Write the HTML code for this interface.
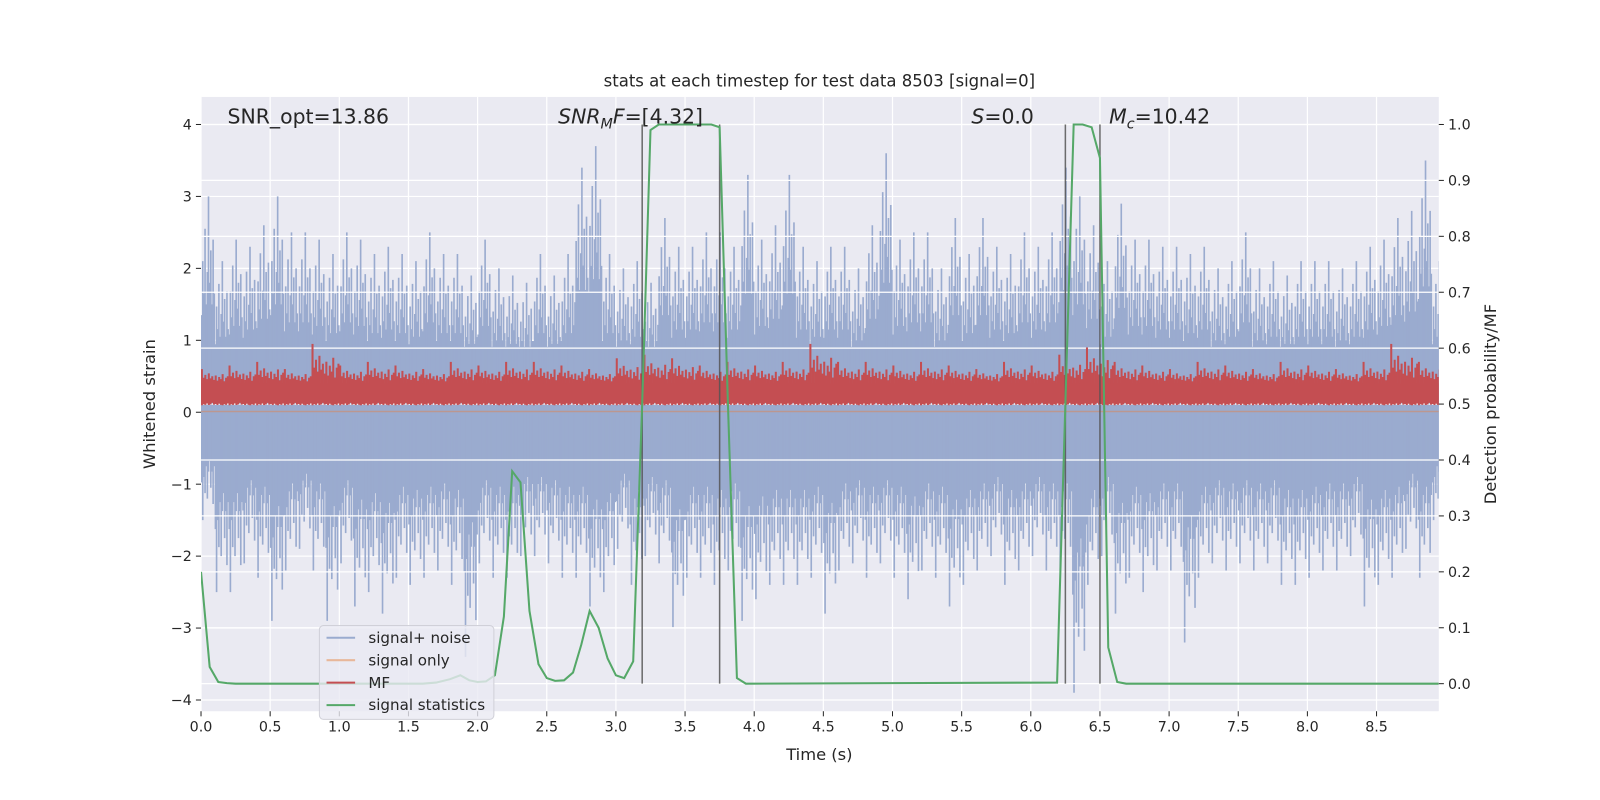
<!DOCTYPE html>
<html><head><meta charset="utf-8">
<style>
html,body{margin:0;padding:0;background:#fff;overflow:hidden;width:1600px;height:800px;}
svg{display:block;}
svg text{font-family:"DejaVu Sans","Liberation Sans",sans-serif;fill:#262626;}
</style></head>
<body>
<svg id="chart" width="1600" height="800" viewBox="0 0 1568 784" preserveAspectRatio="none" xmlns="http://www.w3.org/2000/svg"></svg>
<script>
// ---- data ----
const xTicks=[0,0.5,1,1.5,2,2.5,3,3.5,4,4.5,5,5.5,6,6.5,7,7.5,8,8.5];
const yTicks=[-4,-3,-2,-1,0,1,2,3,4];
const y2Ticks=[0,0.1,0.2,0.3,0.4,0.5,0.6,0.7,0.8,0.9,1.0];
// noise upper/lower peaks per 0.1 s bin
const noiseHigh=[3.0,2.1,2.4,2.3,2.6,3.0,2.5,2.5,2.4,2.2,2.5,2.4,2.2,2.3,2.2,2.1,2.5,2.2,2.2,1.9,2.4,2.0,1.9,1.8,2.2,1.9,2.2,3.4,3.7,2.2,2.0,2.1,1.8,2.7,2.3,2.3,2.5,2.5,2.3,3.3,2.4,2.6,3.3,2.3,2.1,2.3,2.3,2.0,2.6,3.6,2.4,2.5,2.5,2.0,2.7,2.2,2.7,2.3,2.2,2.5,2.3,2.5,3.4,3.0,2.6,2.1,2.9,2.4,2.4,2.3,2.3,2.2,2.3,2.0,2.1,2.5,2.0,2.1,1.9,2.1,2.1,2.1,2.0,2.1,2.3,2.4,2.7,2.8,3.5,2.1];
const noiseLow=[-1.5,-2.5,-2.5,-2.1,-2.3,-2.9,-2.2,-1.9,-2.2,-2.9,-2.1,-2.7,-2.5,-2.8,-2.3,-2.4,-2.3,-2.2,-2.4,-3.4,-2.1,-2.3,-2.3,-2.0,-2.0,-2.1,-2.3,-2.3,-2.7,-2.5,-1.9,-2.4,-2.0,-2.1,-3.0,-2.3,-2.3,-2.4,-2.2,-2.9,-2.6,-2.4,-2.4,-2.4,-2.3,-2.8,-2.2,-2.1,-2.3,-2.1,-2.3,-2.6,-2.2,-2.3,-2.7,-2.4,-2.2,-2.0,-2.4,-2.2,-2.0,-2.2,-2.2,-3.9,-2.4,-2.0,-2.8,-2.3,-2.5,-2.2,-2.2,-3.2,-2.3,-2.1,-2.2,-2.1,-2.2,-2.1,-2.4,-2.4,-2.3,-2.2,-2.2,-2.0,-2.7,-2.4,-2.3,-1.9,-2.3,-1.5];
// MF peaks per 0.2 s bin
const mfPeak=[0.6,0.65,0.7,0.6,0.95,0.65,0.7,0.65,0.6,0.7,0.65,0.7,0.7,0.65,0.6,0.75,0.8,0.75,0.65,0.7,0.65,0.7,0.95,0.7,0.7,0.65,0.7,0.65,0.6,0.7,0.65,0.8,0.9,0.7,0.65,0.6,0.7,0.65,0.6,0.7,0.65,0.6,0.7,0.95,0.7];
// signal statistics
const statT=[0,0.0625,0.125,0.1875,0.25,1.6,1.7,1.8,1.875,1.94,2.0,2.06,2.125,2.19,2.25,2.31,2.375,2.44,2.5,2.56,2.625,2.69,2.75,2.81,2.875,2.94,3.0,3.06,3.125,3.19,3.25,3.31,3.5,3.69,3.75,3.81,3.875,3.94,6.19,6.25,6.31,6.375,6.44,6.5,6.56,6.625,6.69,8.95];
const statV=[0.2,0.03,0.003,0.001,0,0,0.002,0.008,0.015,0.006,0.003,0.004,0.015,0.12,0.38,0.36,0.13,0.035,0.01,0.005,0.006,0.02,0.07,0.13,0.10,0.045,0.015,0.01,0.04,0.5,0.99,1.0,1.0,1.0,0.995,0.5,0.01,0,0.002,0.5,1.0,1.0,0.995,0.94,0.065,0.003,0,0];
const vLines=[3.19,3.75,6.25,6.5];
// ---- axes ----
const L=197,R=1410,T=95,B=697;
const X=t=>L+t/8.95*(R-L);
const Y=v=>404-v*70.5;
const Y2=p=>670-p*548;
const svg=document.getElementById('chart');
const NS='http://www.w3.org/2000/svg';
function mk(tag,attrs,parent){const e=document.createElementNS(NS,tag);for(const k in attrs)e.setAttribute(k,attrs[k]);(parent||svg).appendChild(e);return e;}
const bg=mk('rect',{x:L,y:T,width:R-L,height:B-T,fill:'#EAEAF2'});


const clip=mk('clipPath',{id:'cp'});mk('rect',{x:L,y:T,width:R-L,height:B-T},clip);
const grid=mk('g',{stroke:'#fff','stroke-width':1.2});


xTicks.forEach(t=>mk('line',{x1:X(t),x2:X(t),y1:T,y2:B},grid));
yTicks.forEach(v=>mk('line',{x1:L,x2:R,y1:Y(v),y2:Y(v)},grid));
const plot=mk('g',{'clip-path':'url(#cp)'});
// noise
const noise=mk('g',{},plot);


mk('rect',{x:L,y:Y(0.91),width:R-L,height:Y(-0.68)-Y(0.91),fill:'#9aabcf'},noise);
const fr=[0.45,0.7,0.55,0.85,0.5,0.65,1,0.6,0.75,0.5,0.8,0.55];
const n=fr.length;
noiseHigh.forEach((v,i)=>{
  fr.forEach((f,k)=>{
    const l=mk('line',{x1:X(i*0.1+(k+0.5)*0.1/n),x2:X(i*0.1+(k+0.5)*0.1/n),y1:Y(0),y2:Y(v*f),stroke:'#9aabcf','stroke-width':1.6},noise);
    
    
  });
});
noiseLow.forEach((v,i)=>{
  fr.forEach((f,k)=>{
    const f2=fr[(k+5)%n];
    const l=mk('line',{x1:X(i*0.1+(k+0.5)*0.1/n),x2:X(i*0.1+(k+0.5)*0.1/n),y1:Y(0),y2:Y(v*f2),stroke:'#9aabcf','stroke-width':1.6},noise);
    
    
  });
});
// right-axis grid
y2Ticks.forEach(p=>mk('line',{x1:L,x2:R,y1:Y2(p),y2:Y2(p),stroke:'#fff','stroke-width':1.2},plot));
// signal only
const so=mk('line',{x1:L,x2:R,y1:Y(0.01),y2:Y(0.01),stroke:'#dd8452','stroke-width':1.5,opacity:0.5},plot);


// MF
const mf=mk('g',{},plot);


mk('rect',{x:L,y:Y(0.4),width:R-L,height:Y(0.14)-Y(0.4),fill:'#c44e52'},mf);
const mfr=[1,0.4,0.6,0.3,0.7,0.35,0.5,0.25,0.55,0.2,0.45,0.3,0.65,0.15,0.4,0.5];
mfPeak.forEach((v,i)=>{
  mfr.forEach((f,k)=>{
    const h=0.4+(v-0.4)*f;
    const x=X(i*0.2+(k+0.5)*0.2/mfr.length);
    mk('line',{x1:x,x2:x,y1:Y(0.07+0.06*fr[k%n]),y2:Y(h),stroke:'#c44e52','stroke-width':2},mf);
  });
});
// vertical lines
vLines.forEach(t=>{
  const l=mk('line',{x1:X(t),x2:X(t),y1:Y(4),y2:Y2(0),stroke:'#555','stroke-width':1.5,opacity:0.85},plot);
  
  
});
// signal statistics
const st=mk('polyline',{points:statT.map((t,i)=>X(t)+','+Y2(statV[i])).join(' '),fill:'none',stroke:'#55a868','stroke-width':2},plot);


// ticks & labels
const ax=mk('g',{'font-size':14});


xTicks.forEach(t=>{mk('line',{x1:X(t),x2:X(t),y1:B,y2:B+5,stroke:'#262626'},ax);const e=mk('text',{x:X(t),y:B+20,'text-anchor':'middle'},ax);e.textContent=t.toFixed(1);});
yTicks.forEach(v=>{mk('line',{x1:L-5,x2:L,y1:Y(v),y2:Y(v),stroke:'#262626'},ax);const e=mk('text',{x:L-9,y:Y(v)+5,'text-anchor':'end'},ax);e.textContent=(v<0?'\u2212'+(-v):v);});
y2Ticks.forEach(p=>{mk('line',{x1:R,x2:R+5,y1:Y2(p),y2:Y2(p),stroke:'#262626'},ax);const e=mk('text',{x:R+9,y:Y2(p)+5},ax);e.textContent=p.toFixed(1);});
// static text
const ov=mk('g',{});
ov.innerHTML=`
<text x="803" y="85" text-anchor="middle" font-size="16.2">stats at each timestep for test data 8503 [signal=0]</text>
<text x="803" y="745" text-anchor="middle" font-size="16">Time (s)</text>
<text x="152" y="396" text-anchor="middle" font-size="16" transform="rotate(-90 152 396)">Whitened strain</text>
<text x="1466" y="396" text-anchor="middle" font-size="16" transform="rotate(-90 1466 396)">Detection probability/MF</text>
<text x="223" y="121" font-size="20">SNR_opt=13.86</text>
<text x="547" y="121" font-size="20"><tspan font-style="italic">SNR</tspan><tspan font-style="italic" font-size="14" dy="5">M</tspan><tspan font-style="italic" dy="-5">F</tspan>=[4.32]</text>
<text x="952" y="121" font-size="20"><tspan font-style="italic">S</tspan>=0.0</text>
<text x="1087" y="121" font-size="20"><tspan font-style="italic">M</tspan><tspan font-style="italic" font-size="14" dy="5">c</tspan><tspan dy="-5">=10.42</tspan></text>
<g>
<rect x="313" y="613" width="171" height="92" rx="4" fill="#EAEAF2" fill-opacity="0.8" stroke="#d0d0d8"/>
<line x1="320" x2="348" y1="625" y2="625" stroke="#9aabcf" stroke-width="2"/>
<text x="361" y="630" font-size="14.8">signal+ noise</text>
<line x1="320" x2="348" y1="647" y2="647" stroke="#e8b79a" stroke-width="2"/>
<text x="361" y="652" font-size="14.8">signal only</text>
<line x1="320" x2="348" y1="669" y2="669" stroke="#c44e52" stroke-width="2"/>
<text x="361" y="674" font-size="14.8">MF</text>
<line x1="320" x2="348" y1="691" y2="691" stroke="#55a868" stroke-width="2"/>
<text x="361" y="696" font-size="14.8">signal statistics</text>
</g>`;
</script>
</body></html>
